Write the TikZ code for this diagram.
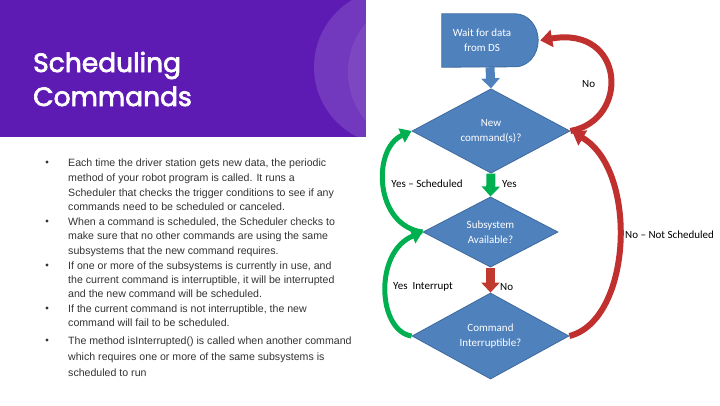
\documentclass[tikz,border=0pt]{standalone}
\usepackage{fontspec}
\setmainfont{Liberation Sans}
\newfontfamily\titlefont{Poppins}
\newfontfamily\chartfont{Carlito}
\usetikzlibrary{shapes.geometric,arrows.meta,calc}
\newcommand\heavytitle[1]{\special{pdf:literal direct 1 1 1 RG 0.7 w 2 Tr}#1\special{pdf:literal direct 0 Tr}}
\definecolor{hdr}{HTML}{5E1BB4}
\definecolor{boxblue}{HTML}{4F81BD}
\definecolor{boxedge}{HTML}{3D6A9E}
\definecolor{okgreen}{HTML}{00B050}
\definecolor{nored}{HTML}{C0392F}
\definecolor{loopred}{HTML}{C0302E}
\definecolor{bodytext}{HTML}{333333}
\tikzset{
  bodyline/.style={anchor=base west, inner sep=0pt, text=bodytext, font=\fontsize{10.6}{12}\selectfont},
  titleline/.style={anchor=base west, inner sep=0pt, text=white, font=\titlefont\fontsize{26.5}{30}\selectfont},
  bulletdot/.style={circle, fill=bodytext, inner sep=0pt, minimum size=3.4pt},
  chartbox/.style={fill=boxblue, draw=boxedge, line width=0.8pt},
  decision/.style={diamond, chartbox, inner sep=0pt, text=white, align=center, font=\chartfont\fontsize{11}{15}\selectfont},
  ctext/.style={text=white, align=center, inner sep=0pt, font=\chartfont\fontsize{11}{15}\selectfont},
  clabel/.style={inner sep=0pt, text=black, font=\chartfont\fontsize{11}{13}\selectfont},
  blockarrow/.style={line width=9pt, -{Triangle[width=18pt,length=10pt]}},
  greenloop/.style={draw=okgreen, line width=5pt, -{Triangle[width=15pt,length=11pt]}},
  redloop/.style={draw=loopred, line width=6pt, -{Triangle[width=17pt,length=12pt]}}
}
\begin{document}
\begin{tikzpicture}[x=1pt,y=-1pt]
\useasboundingbox (0,0) rectangle (720,405);
\fill[white] (0,0) rectangle (720,405);
% header
\fill[hdr] (0,0) rectangle (366,137);
\begin{scope}
  \clip (0,0) rectangle (366,137);
  \fill[white, opacity=0.13] (392,67) circle[radius=78];
  \fill[white, opacity=0.08] (424,72) circle[radius=76];
\end{scope}
\node[titleline] (t1) at (33,72) {\heavytitle{Scheduling}};
\node[titleline] (t2) at (33,106) {\heavytitle{Commands}};
% bullets
\node[bulletdot] (b1) at (47,162) {};
\node[bulletdot] (b2) at (47,221) {};
\node[bulletdot] (b3) at (47,265) {};
\node[bulletdot] (b4) at (47,308) {};
\node[bulletdot] (b5) at (47,340) {};
\node[bodyline] (l1) at (68,166) {Each time the driver station gets new data, the periodic};
\node[bodyline] (l2) at (68,181) {method of your robot program is called. It runs a};
\node[bodyline] (l3) at (68,196) {Scheduler that checks the trigger conditions to see if any};
\node[bodyline] (l4) at (68,210) {commands need to be scheduled or canceled.};
\node[bodyline] (l5) at (68,225) {When a command is scheduled, the Scheduler checks to};
\node[bodyline] (l6) at (68,239) {make sure that no other commands are using the same};
\node[bodyline] (l7) at (68,254) {subsystems that the new command requires.};
\node[bodyline] (l8) at (68,269) {If one or more of the subsystems is currently in use, and};
\node[bodyline] (l9) at (68,283) {the current command is interruptible, it will be interrupted};
\node[bodyline] (l10) at (68,297) {and the new command will be scheduled.};
\node[bodyline] (l11) at (68,312) {If the current command is not interruptible, the new};
\node[bodyline] (l12) at (68,326) {command will fail to be scheduled.};
\node[bodyline] (l13) at (68,344) {The method isInterrupted() is called when another command};
\node[bodyline] (l14) at (68,360) {which requires one or more of the same subsystems is};
\node[bodyline] (l15) at (68,376) {scheduled to run};
% flowchart
\node[minimum width=96pt, minimum height=53pt, inner sep=0pt] (wait) at (490,40.5) {};
\path[chartbox] (wait.north west) -- ($(wait.north east)+(-23,0)$)
   arc[start angle=-90, end angle=90, x radius=23, y radius=26.5]
   -- (wait.south west) -- cycle;
\node[ctext] (waittxt) at ($(wait.center)+(-8,0)$) {Wait for data\\from DS};
\node[decision, minimum width=158pt, minimum height=70pt] (d1) at (491,131) {New\\command(s)?};
\node[decision, minimum width=135pt, minimum height=70pt] (d2) at (490.5,232) {Subsystem\\Available?};
\node[decision, minimum width=157pt, minimum height=73pt] (d3) at (490.5,336) {Command\\Interruptible?};
% straight arrows
\draw[blockarrow, boxblue] (wait.south) -- (d1.north);
\draw[blockarrow, okgreen] (d1.south) -- (d2.north);
\draw[blockarrow, nored] (d2.south) -- (d3.north);
% loops
\draw[greenloop] (d2.west) .. controls +(-48,-6) and +(-40,18) .. (d1.west);
\draw[greenloop] (d3.west) .. controls +(-34,-5) and +(-49,20) .. (d2.west);
\draw[redloop] (d1.east) .. controls +(60,-11) and +(85,-15) .. ($(wait.east)+(2,0)$);
\draw[redloop] (d3.east) .. controls +(63,-16) and +(66,38) .. ($(d1.east)+(2,1)$);
% labels
\node[clabel] (lys) at (427,184) {Yes – Scheduled};
\node[clabel, anchor=west] (lyes) at (502,184) {Yes};
\node[clabel, anchor=west] (lyi) at (393,287) {Yes\ \ Interrupt};
\node[clabel, anchor=west] (lno) at (500,287) {No};
\node[clabel, anchor=west] (lnotop) at (582,84) {No};
\node[clabel, anchor=west] (lnns) at (625,235) {No – Not Scheduled};
\end{tikzpicture}
\end{document}
